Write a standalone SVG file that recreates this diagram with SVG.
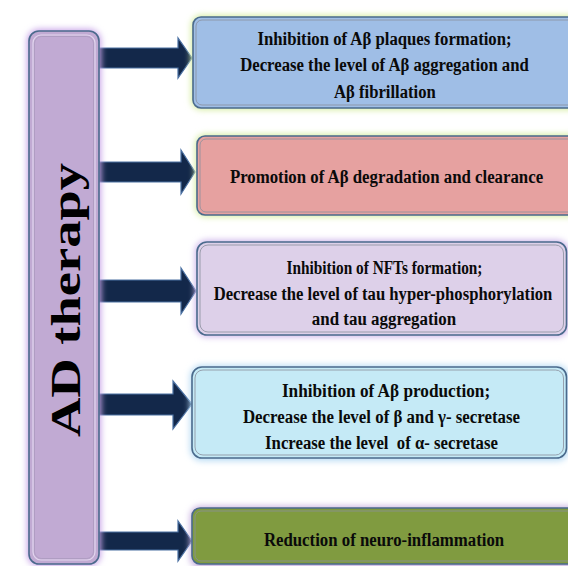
<svg xmlns="http://www.w3.org/2000/svg" width="568" height="566" viewBox="0 0 568 566">
<defs>
<filter id="glow" x="-20%" y="-20%" width="140%" height="140%"><feGaussianBlur stdDeviation="3"/></filter>
</defs>
<style>
.box{stroke:#4a6a8c;stroke-width:1.6}
.inner{fill:none;stroke:#8a8f9c;stroke-width:1;opacity:0.8}
.t{font-family:"Liberation Serif","Times New Roman",serif;font-weight:bold;font-size:19px;fill:#0a0a0a;text-anchor:middle}
.arr{fill:#13284a;stroke:#4a70a2;stroke-width:1.2;stroke-linejoin:miter}
</style>
<rect width="568" height="566" fill="#ffffff"/>

<g id="connectors">
<polygon class="arr" points="99,48 178,48 178,38 192,58 178,78 178,68 99,68"/>
<polygon class="arr" points="99,162 181,162 181,150 195,172 181,194 181,182 99,182"/>
<polygon class="arr" points="99,280 181,280 181,268 196,291 181,314 181,302 99,302"/>
<polygon class="arr" points="99,394 173,394 173,381 192,404 173,429 173,415 99,415"/>
<polygon class="arr" points="99,532 178,532 178,521 192,541 178,561 178,550 99,550"/>
</g>

<g id="ad-therapy">
<rect x="27" y="29" width="74" height="537" rx="12" fill="#c8a4e8" filter="url(#glow)"/>
<rect class="box" x="29" y="31" width="70" height="533" rx="10" fill="#c1aad3"/>
<rect x="33" y="35" width="62" height="525" rx="8" fill="none" stroke="#e2d6ee" stroke-width="1.2"/>
<rect x="34.5" y="36.5" width="59" height="522" rx="7" fill="none" stroke="#9c8fae" stroke-width="0.8" opacity="0.6"/>
<text transform="translate(80,300) rotate(-90)" font-family="'Liberation Serif','Times New Roman',serif" font-weight="bold" font-size="42" text-anchor="middle" textLength="274" lengthAdjust="spacingAndGlyphs" fill="#000">AD therapy</text>
</g>

<g id="box1">
<rect x="191" y="15" width="390" height="95" rx="10" fill="#d6eda2" filter="url(#glow)"/>
<rect class="box" x="193" y="17" width="385" height="91" rx="8" fill="#9fbee6"/>
<rect class="inner" x="196" y="20" width="379" height="85" rx="6"/>
<g transform="translate(384.5,0) scale(0.82,1)">
<text class="t" x="0" y="45" textLength="310" lengthAdjust="spacingAndGlyphs">Inhibition of Aβ plaques formation;</text>
<text class="t" x="0" y="71.5" textLength="352" lengthAdjust="spacingAndGlyphs">Decrease the level of Aβ aggregation and</text>
<text class="t" x="0.5" y="98" textLength="124" lengthAdjust="spacingAndGlyphs">Aβ fibrillation</text>
</g>
</g>

<g id="box2">
<rect x="195" y="134" width="385" height="83" rx="10" fill="#d6eda2" filter="url(#glow)"/>
<rect class="box" x="197" y="136" width="381" height="79" rx="8" fill="#e6a1a0"/>
<rect class="inner" x="200" y="139" width="375" height="73" rx="6"/>
<g transform="translate(386.5,0) scale(0.82,1)">
<text class="t" x="0" y="183.5" textLength="382" lengthAdjust="spacingAndGlyphs">Promotion of Aβ degradation and clearance</text>
</g>
</g>

<g id="box3">
<rect x="195" y="240" width="374" height="97" rx="12" fill="#cdb4ea" filter="url(#glow)"/>
<rect class="box" x="197" y="242" width="369.5" height="93" rx="10" fill="#ddd0e9"/>
<rect class="inner" x="200" y="245" width="363.5" height="87" rx="8"/>
<g transform="translate(383,0) scale(0.82,1)">
<text class="t" x="1.8" y="274" textLength="239" lengthAdjust="spacingAndGlyphs">Inhibition of NFTs formation;</text>
<text class="t" x="0" y="300" textLength="413" lengthAdjust="spacingAndGlyphs">Decrease the level of tau hyper-phosphorylation</text>
<text class="t" x="1.2" y="325" textLength="176" lengthAdjust="spacingAndGlyphs">and tau aggregation</text>
</g>
</g>

<g id="box4">
<rect x="190" y="365" width="379" height="96" rx="12" fill="#b9dcf4" filter="url(#glow)"/>
<rect class="box" x="192" y="367" width="374.5" height="91" rx="10" fill="#c5eaf6"/>
<rect class="inner" x="195" y="370" width="368.5" height="85" rx="8"/>
<g transform="translate(381.5,0) scale(0.82,1)">
<text class="t" x="5.5" y="397" textLength="254" lengthAdjust="spacingAndGlyphs">Inhibition of Aβ production;</text>
<text class="t" x="0" y="423" textLength="338" lengthAdjust="spacingAndGlyphs">Decrease the level of β and γ- secretase</text>
<text class="t" x="0" y="449" textLength="284" lengthAdjust="spacingAndGlyphs">Increase the level&#160; of α- secretase</text>
</g>
</g>

<g id="box5">
<rect x="190" y="506" width="390" height="62" rx="10" fill="#c8b0e0" filter="url(#glow)"/>
<rect class="box" x="192" y="508" width="386" height="56" rx="8" fill="#809b40"/>
<rect class="inner" x="195" y="511" width="380" height="50" rx="6"/>
<g transform="translate(384,0) scale(0.82,1)">
<text class="t" x="0" y="546" textLength="293" lengthAdjust="spacingAndGlyphs">Reduction of neuro-inflammation</text>
</g>
</g>
</svg>
